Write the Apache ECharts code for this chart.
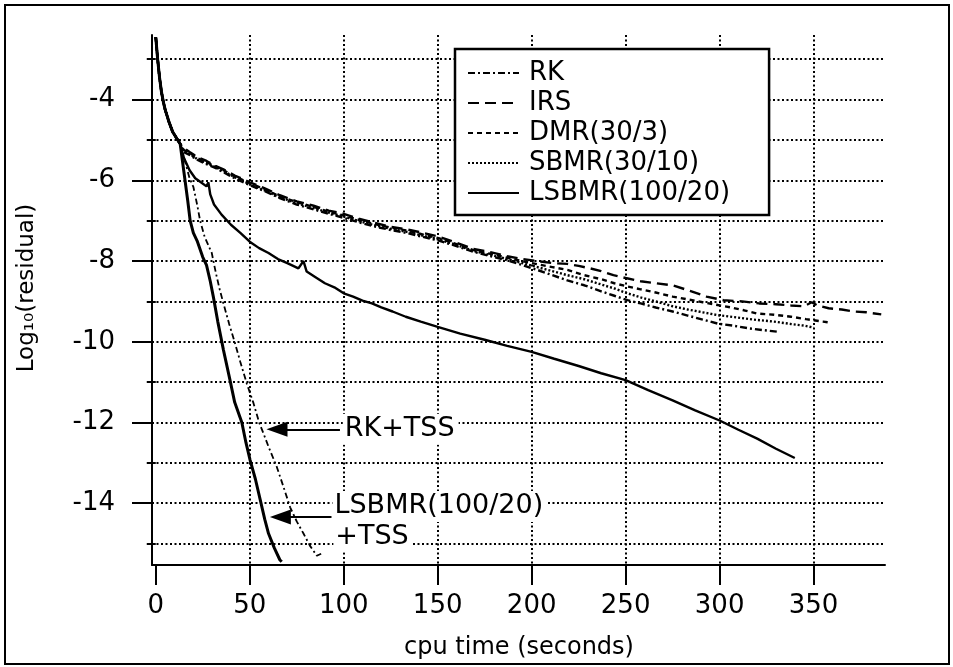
<!DOCTYPE html>
<html><head><meta charset="utf-8">
<script src="https://cdn.jsdelivr.net/npm/echarts@6/dist/echarts.min.js"></script>
<style>html,body{margin:0;padding:0;background:#fff}#c{width:953px;height:667px}</style>
</head><body><div id="c"></div>
<script>
// ---- axis values ----
const xTicks = [0, 50, 100, 150, 200, 250, 300, 350];
const xGridValues = [50, 100, 150, 200, 250, 300, 350];
const yMajor = [-14, -12, -10, -8, -6, -4];
const yMinor = [-15, -13, -11, -9, -7, -5, -3];
const xRange = [-2, 388];
const yRange = [-15.53, -2.4];

// ---- series data (cpu time, log10 residual) ----
const startPart = [[0,-2.45],[1,-3.0],[2,-3.45],[3,-3.8],[4,-4.05],[5,-4.25],[7,-4.55],[9,-4.8],[11,-4.95],[13,-5.1]];
const irs = [[15,-5.2],[18,-5.3],[22,-5.42],[27,-5.52],[32,-5.65],[36,-5.73],[42,-5.88],[50,-6.05],[58,-6.2],[66,-6.37],[75,-6.52],[84,-6.63],[92,-6.75],[100,-6.83],[108,-6.95],[116,-7.05],[125,-7.15],[134,-7.22],[142,-7.3],[151,-7.4],[160,-7.55],[169,-7.7],[178,-7.78],[187,-7.88],[195,-7.95],[203,-8.0],[211,-8.05],[219,-8.07],[225,-8.12],[231,-8.18],[237,-8.25],[243.5,-8.35],[250,-8.42],[258,-8.5],[266,-8.55],[275,-8.6],[285,-8.75],[293,-8.88],[302,-8.97],[312,-9.0],[321,-9.05],[330,-9.07],[338,-9.1],[345,-9.12],[349,-9.02],[352,-9.1],[358,-9.17],[365,-9.2],[371,-9.25],[378,-9.27],[386,-9.32]];
const dmr = [[15,-5.25],[18,-5.32],[22,-5.45],[27,-5.55],[32,-5.66],[36,-5.75],[42,-5.9],[50,-6.07],[58,-6.22],[66,-6.4],[75,-6.54],[84,-6.66],[92,-6.78],[100,-6.87],[108,-6.98],[116,-7.08],[125,-7.17],[134,-7.25],[142,-7.34],[151,-7.44],[160,-7.58],[169,-7.73],[178,-7.82],[187,-7.92],[195,-8.0],[203,-8.08],[211,-8.15],[219,-8.22],[228,-8.35],[237,-8.45],[244,-8.55],[251,-8.63],[258,-8.7],[266,-8.78],[275,-8.88],[283,-8.95],[291,-9.02],[299,-9.09],[306,-9.15],[313,-9.22],[320,-9.3],[329,-9.33],[338,-9.38],[346,-9.44],[355,-9.5],[358,-9.52]];
const sbmr = [[15,-5.27],[18,-5.35],[22,-5.47],[27,-5.57],[32,-5.68],[36,-5.77],[42,-5.92],[50,-6.1],[58,-6.25],[66,-6.42],[75,-6.57],[84,-6.69],[92,-6.8],[100,-6.9],[108,-7.01],[116,-7.11],[125,-7.2],[134,-7.28],[142,-7.37],[151,-7.47],[160,-7.6],[169,-7.75],[178,-7.85],[187,-7.95],[195,-8.05],[203,-8.15],[211,-8.25],[219,-8.35],[228,-8.45],[237,-8.58],[244,-8.68],[251,-8.8],[258,-8.9],[266,-9.0],[275,-9.12],[283,-9.2],[291,-9.27],[299,-9.34],[308,-9.39],[318,-9.45],[329,-9.5],[338,-9.56],[345,-9.6],[350,-9.65]];
const rk = [[15,-5.3],[18,-5.37],[22,-5.49],[27,-5.6],[32,-5.7],[36,-5.8],[42,-5.95],[50,-6.12],[58,-6.27],[66,-6.44],[75,-6.6],[84,-6.72],[92,-6.83],[100,-6.93],[108,-7.04],[116,-7.14],[125,-7.23],[134,-7.31],[142,-7.4],[151,-7.5],[160,-7.63],[169,-7.77],[178,-7.88],[187,-7.98],[195,-8.1],[203,-8.22],[211,-8.35],[219,-8.48],[228,-8.6],[237,-8.75],[244,-8.86],[251,-8.97],[258,-9.05],[266,-9.15],[275,-9.25],[283,-9.35],[291,-9.45],[299,-9.55],[307,-9.6],[316,-9.67],[323,-9.71],[330.5,-9.75]];
const lsbmr = [[15,-5.45],[18,-5.75],[21,-5.95],[24,-6.05],[27,-6.15],[28,-6.05],[29,-6.35],[31,-6.6],[35,-6.85],[40,-7.1],[45,-7.3],[50,-7.52],[55,-7.68],[60,-7.8],[65,-7.95],[70,-8.05],[75.9,-8.18],[78.6,-8.0],[80.3,-8.26],[85,-8.4],[90,-8.55],[95,-8.65],[100,-8.8],[105,-8.88],[110,-8.98],[115,-9.05],[120,-9.15],[126,-9.25],[133,-9.38],[141,-9.5],[150,-9.63],[162,-9.8],[175,-9.95],[187,-10.1],[200,-10.25],[212,-10.42],[225,-10.6],[237,-10.78],[250,-10.95],[262,-11.2],[275,-11.45],[287,-11.7],[300,-11.95],[310,-12.18],[320,-12.4],[330,-12.65],[340,-12.88]];
const lsbmrTss = [[15,-5.8],[17,-6.5],[18.3,-7.0],[20,-7.3],[22,-7.5],[25,-7.9],[27,-8.1],[29,-8.5],[30.7,-8.9],[33,-9.5],[36,-10.2],[39.5,-10.95],[42,-11.5],[45.8,-12.0],[48,-12.5],[50.2,-12.93],[53,-13.4],[55.5,-13.9],[58,-14.4],[60,-14.75],[63,-15.1],[66,-15.4],[67,-15.45]];
const rkTss = [[16,-5.6],[18,-5.95],[20,-6.16],[22,-6.6],[23.6,-7.0],[26,-7.4],[29.8,-7.8],[32,-8.3],[34,-8.7],[36,-9.05],[39,-9.55],[42.2,-10.04],[45,-10.5],[48.4,-11.03],[52,-11.52],[55,-12.0],[57.3,-12.27],[60,-12.6],[64.4,-13.1],[68,-13.6],[71.5,-14.1],[75,-14.45],[78.6,-14.75],[82,-15.05],[85.7,-15.3],[88,-15.25]];

const seriesNames = ['RK','IRS','DMR(30/3)','SBMR(30/10)','LSBMR(100/20)'];
const annotationTexts = ['RK+TSS', 'LSBMR(100/20)', '+TSS'];
const annotationAnchors = [[99.5,-12.17],[94,-14.08],[94.5,-14.83]];
const arrowRk = [[98,-12.17],[62,-12.17]];
const arrowLs = [[93.5,-14.34],[64,-14.34]];
const arrowHeads = [[64.5,-12.17],[66.3,-14.34]];

const FONT = 'DejaVu Sans';
const chart = echarts.init(document.getElementById('c'), null, {renderer:'canvas'});

function lineSeries(name, data, dash, width, z) {
  return {
    name, type:'line', data, symbol:'none', showSymbol:false, animation:false,
    lineStyle:{color:'#000', width, type:dash}, itemStyle:{color:'#000'}, z: z || 2,
    xAxisIndex:0, yAxisIndex:0
  };
}
function arrowMark(pts){
  return {
    silent:true, animation:false, symbol:['none','none'],
    label:{show:false}, lineStyle:{color:'#000', width:2.2, type:'solid'},
    emphasis:{disabled:true},
    data:[[{coord:pts[0]},{coord:pts[1]}]]
  };
}

const grid = {left:152, top:35, right:68, bottom:102};
const gridLine = {show:true, lineStyle:{color:'#000', width:2, type:[2,2.5]}};

const s1 = lineSeries('RK', startPart.concat(rk), [7,3,2,3], 2.4);
const s2 = lineSeries('IRS', startPart.concat(irs), [11,6], 2.4);
const s3 = lineSeries('DMR(30/3)', startPart.concat(dmr), [5,4], 2.4);
const s4 = lineSeries('SBMR(30/10)', startPart.concat(sbmr), [2,2], 2.4);
const s5 = lineSeries('LSBMR(100/20)', startPart.concat(lsbmr), 'solid', 2.4);
const s6 = lineSeries('RK+TSS', startPart.concat(rkTss), [6,3,2,3], 1.8);
s6.markLine = arrowMark(arrowRk);
const s7 = lineSeries('LSBMR(100/20)+TSS', startPart.concat(lsbmrTss), 'solid', 3);
s7.markLine = arrowMark(arrowLs);
const sHeads = {
  name:'arrowheads', type:'scatter', data:arrowHeads, symbol:'triangle', symbolRotate:90,
  symbolSize:[15,21], itemStyle:{color:'#000', opacity:1}, silent:true, animation:false, z:5,
  xAxisIndex:0, yAxisIndex:0
};

chart.setOption({
  backgroundColor:'#fff',
  animation:false,
  textStyle:{fontFamily:FONT, color:'#000'},
  grid,
  xAxis:[{
    type:'value', min:xRange[0], max:xRange[1], position:'bottom',
    axisLine:{show:true, onZero:false, lineStyle:{color:'#000', width:2}},
    axisTick:{show:true, length:20, customValues:xTicks, lineStyle:{color:'#000', width:2}},
    axisLabel:{show:true, customValues:xTicks, margin:28, fontSize:26, fontFamily:FONT, color:'#000'},
    splitLine:{show:false}
  },{
    type:'value', min:xRange[0], max:xRange[1], position:'bottom',
    axisLine:{show:false}, axisTick:{show:false, customValues:xGridValues},
    axisLabel:{show:false}, splitLine:gridLine
  }],
  yAxis:[{
    type:'value', min:yRange[0], max:yRange[1], position:'left',
    axisLine:{show:true, onZero:false, lineStyle:{color:'#000', width:2}},
    axisTick:{show:true, length:20, customValues:yMajor, lineStyle:{color:'#000', width:2}},
    axisLabel:{show:true, customValues:yMajor, margin:37, fontSize:26, fontFamily:FONT, color:'#000'},
    splitLine:gridLine
  },{
    type:'value', min:yRange[0], max:yRange[1], position:'left',
    axisLine:{show:false},
    axisTick:{show:true, length:9, customValues:yMinor, lineStyle:{color:'#000', width:2}},
    axisLabel:{show:false}, splitLine:gridLine
  }],
  legend:{
    data:seriesNames, orient:'vertical', left:455, top:49,
    padding:[9,39,7,12], itemGap:0, itemWidth:51, itemHeight:14,
    backgroundColor:'#fff', borderColor:'#000', borderWidth:2.5,
    selectedMode:false, z:20,
    itemStyle:{color:'rgba(0,0,0,0)', borderColor:'rgba(0,0,0,0)', borderWidth:0, opacity:0},
    textStyle:{fontFamily:FONT, fontSize:26, lineHeight:30, color:'#000', padding:[0,0,0,5]}
  },
  series:[s1,s2,s3,s4,s5,s6,s7,sHeads]
});

function px(p){ return chart.convertToPixel({xAxisIndex:0, yAxisIndex:0}, p); }
const gElems = [
  {type:'rect', shape:{x:5, y:5, width:944, height:659}, style:{fill:'none', stroke:'#000', lineWidth:2}, z:30, silent:true},
  {type:'text', x:27, y:288, rotation:Math.PI/2, z:30,
   style:{text:'Log₁₀(residual)', font:'23px "DejaVu Sans"', fill:'#000', align:'center', verticalAlign:'middle'}},
  {type:'text', x:519, y:648, z:30,
   style:{text:'cpu time (seconds)', font:'24px "DejaVu Sans"', fill:'#000', align:'center', verticalAlign:'middle'}}
];
annotationTexts.forEach((t,i)=>{
  const p = px(annotationAnchors[i]);
  gElems.push({type:'text', x:p[0], y:p[1], z:25,
    style:{text:t, font:'27px "DejaVu Sans"', fill:'#000', align:'left', verticalAlign:'middle',
      backgroundColor:'#fff', padding:[2,4,2,2]}});
});
chart.setOption({graphic:{elements:gElems}});
</script></body></html>
